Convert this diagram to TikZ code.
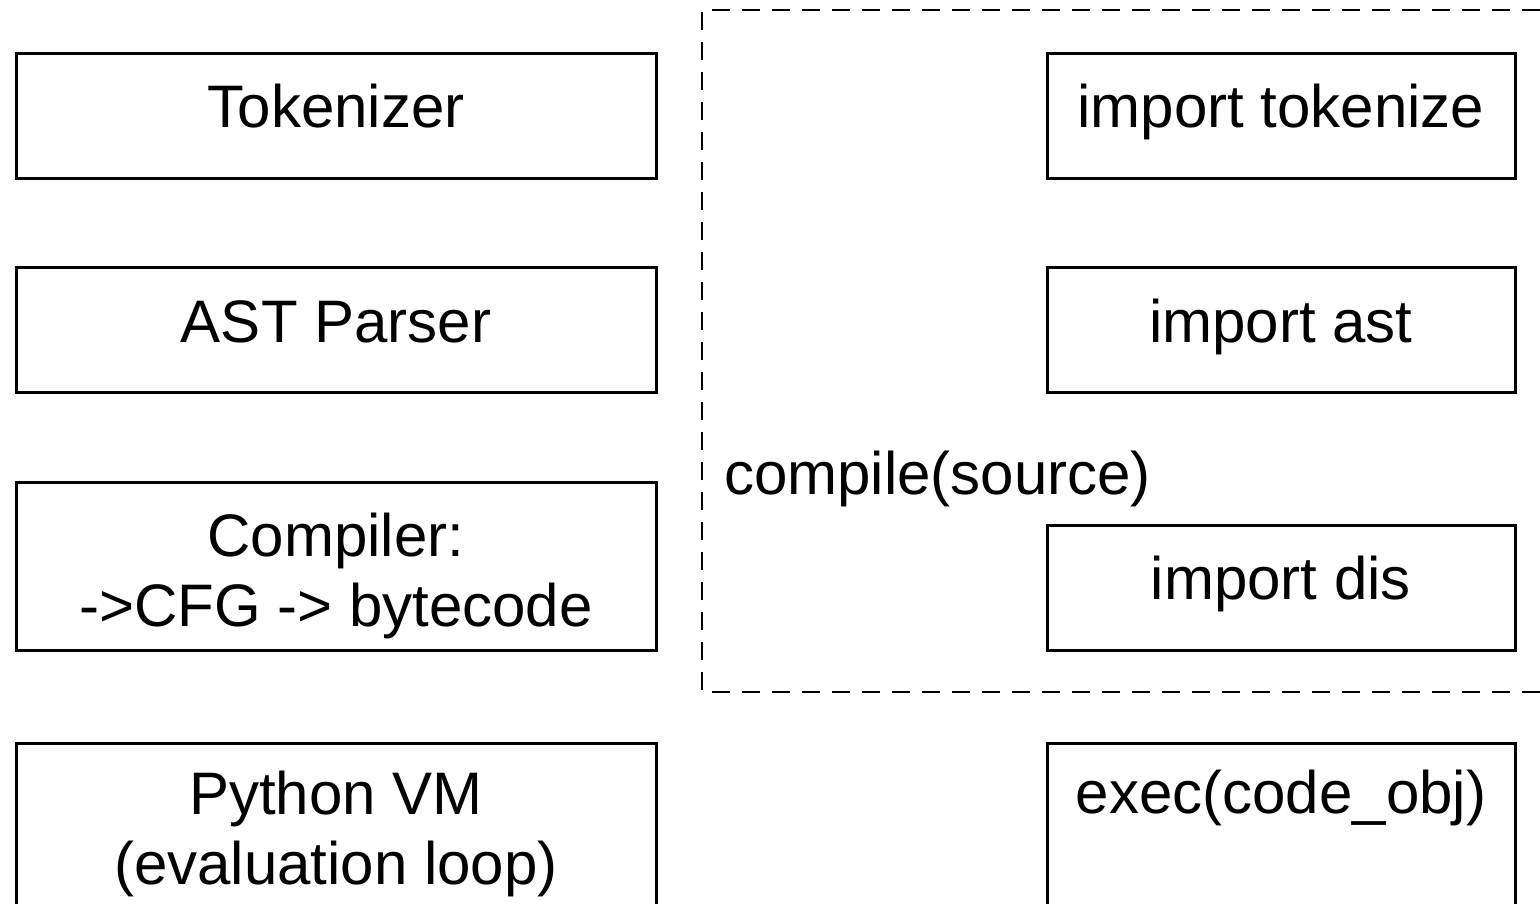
\documentclass[tikz,border=0pt]{standalone}
\usepackage{fontspec}
\setmainfont{Liberation Sans}
\begin{document}
\begin{tikzpicture}[x=1pt,y=-1pt,
  box/.style={draw, line width=3pt, rectangle, inner sep=0pt},
  leftbox/.style={box, minimum width=640pt},
  rightbox/.style={box, minimum width=468pt},
  lbl/.style={font=\fontsize{60}{70}\selectfont, align=center, inner sep=0pt, anchor=base},
  group/.style={draw, line width=2pt, dash pattern=on 18pt off 12pt}]
\useasboundingbox (0,0) rectangle (1540,903);
\fill[white] (0,0) rectangle (1540,903);

% compile() group frame (runs off the right edge)
\draw[group] (1570,692) -- (702,692) -- (702,10) -- (1570,10);
\node[lbl, anchor=base west] (compile) at (724,494) {compile(source)};

% pipeline stages
\node[leftbox, minimum height=125pt] (tok) at (336,115.5) {};
\node[lbl] (toktxt) at (336,127) {Tokenizer};
\node[leftbox, minimum height=125pt] (ast) at (336,329.5) {};
\node[lbl] (asttxt) at (336,342) {AST Parser};
\node[leftbox, minimum height=168pt] (cmp) at (336,566) {};
\node[lbl] (cmptxt) at (336,626) {Compiler:\\->CFG -> bytecode};
\node[leftbox, minimum height=200pt, anchor=north] (vm) at (336,741.5) {};
\node[lbl] (vmtxt) at (336,884) {Python VM\\(evaluation loop)};

% matching stdlib entry points
\node[rightbox, minimum height=125pt] (itok) at (1281,115.5) {};
\node[lbl] (itoktxt) at (1281,127) {import tokenize};
\node[rightbox, minimum height=125pt] (iast) at (1281,329.5) {};
\node[lbl] (iasttxt) at (1281,342) {import ast};
\node[rightbox, minimum height=125pt] (idis) at (1281,587.5) {};
\node[lbl] (idistxt) at (1281,599) {import dis};
\node[rightbox, minimum height=200pt, anchor=north] (exec) at (1281,741.5) {};
\node[lbl] (exectxt) at (1281,813) {exec(code\_obj)};
\end{tikzpicture}
\end{document}
